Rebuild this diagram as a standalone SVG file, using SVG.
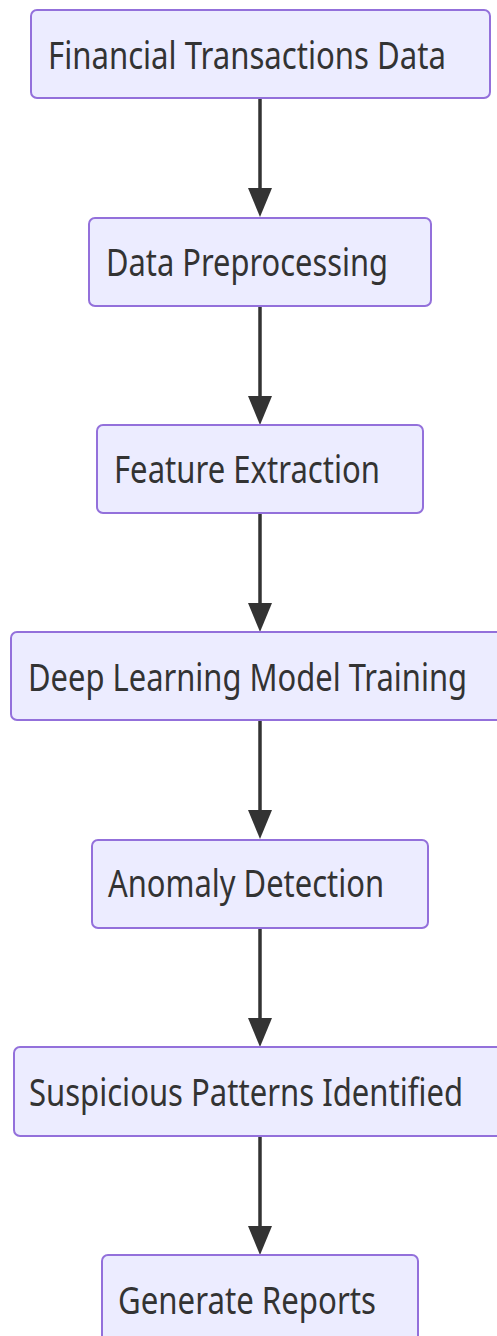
<svg xmlns="http://www.w3.org/2000/svg" width="497" height="1336" viewBox="0 0 497 1336">
  <style>
    .node rect { fill: #ECECFF; stroke: #9370DB; stroke-width: 2; }
    .node text { font-family: "Noto Sans", "Open Sans", sans-serif; font-size: 31px; fill: #333333; }
    .edge { fill: none; stroke: #333333; stroke-width: 3.5; }
  </style>
  <defs>
    <marker id="arrowhead" markerUnits="userSpaceOnUse" viewBox="0 0 29 24" refX="2" refY="12" markerWidth="29" markerHeight="24" orient="auto">
      <path d="M0,0 L29,12 L0,24 z" fill="#333333"/>
    </marker>
  </defs>
  <rect width="497" height="1336" fill="#FFFFFF"/>

  <g id="connectors">
    <path class="edge" d="M260,98 V190" marker-end="url(#arrowhead)"/>
    <path class="edge" d="M260,306 V398" marker-end="url(#arrowhead)"/>
    <path class="edge" d="M260,513 V605" marker-end="url(#arrowhead)"/>
    <path class="edge" d="M260,720 V812" marker-end="url(#arrowhead)"/>
    <path class="edge" d="M260,928 V1020" marker-end="url(#arrowhead)"/>
    <path class="edge" d="M260,1136 V1228" marker-end="url(#arrowhead)"/>
  </g>

  <!-- labels use a vertically stretched face: 31px wide, ~39px tall -->
  <g id="financial-data" class="node">
    <rect x="31" y="10" width="459" height="88" rx="6"/>
    <text transform="translate(48,69) scale(1,1.258)" textLength="398" lengthAdjust="spacingAndGlyphs">Financial Transactions Data</text>
  </g>
  <g id="preprocessing" class="node">
    <rect x="89" y="218" width="342" height="88" rx="6"/>
    <text transform="translate(106,276) scale(1,1.258)" textLength="282" lengthAdjust="spacingAndGlyphs">Data Preprocessing</text>
  </g>
  <g id="feature-extraction" class="node">
    <rect x="97" y="425" width="326" height="88" rx="6"/>
    <text transform="translate(114,483) scale(1,1.258)" textLength="266" lengthAdjust="spacingAndGlyphs">Feature Extraction</text>
  </g>
  <g id="model-training" class="node">
    <rect x="11" y="632" width="498" height="88" rx="6"/>
    <text transform="translate(28,691) scale(1,1.258)" textLength="439" lengthAdjust="spacingAndGlyphs">Deep Learning Model Training</text>
  </g>
  <g id="anomaly-detection" class="node">
    <rect x="92" y="840" width="336" height="88" rx="6"/>
    <text transform="translate(108,897) scale(1,1.258)" textLength="276" lengthAdjust="spacingAndGlyphs">Anomaly Detection</text>
  </g>
  <g id="suspicious-patterns" class="node">
    <rect x="14" y="1047" width="492" height="89" rx="6"/>
    <text transform="translate(29,1106) scale(1,1.258)" textLength="434" lengthAdjust="spacingAndGlyphs">Suspicious Patterns Identified</text>
  </g>
  <g id="generate-reports" class="node">
    <rect x="102" y="1255" width="316" height="110" rx="6"/>
    <text transform="translate(118,1314) scale(1,1.258)" textLength="258" lengthAdjust="spacingAndGlyphs">Generate Reports</text>
  </g>
</svg>
